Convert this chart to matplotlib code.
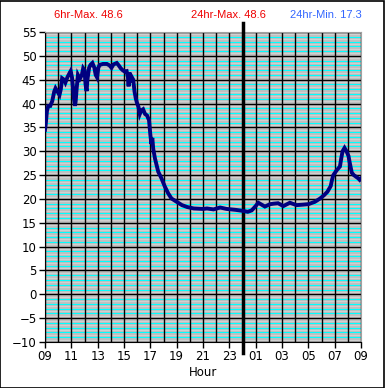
import matplotlib
matplotlib.use('Agg')
import matplotlib.pyplot as plt
import numpy as np

plt.rcParams['font.family'] = ['Liberation Sans', 'DejaVu Sans']

# hours since 09:00, temperature
hours = [0.0, 0.05, 0.15, 0.25, 0.4, 0.55, 0.7, 0.8, 0.95, 1.1, 1.2, 1.3, 1.45, 1.55,
         1.7, 1.85, 1.95, 2.05, 2.12, 2.2, 2.28, 2.33, 2.4, 2.5, 2.65, 2.8, 2.9, 3.0,
         3.08, 3.16, 3.22, 3.35, 3.45, 3.6, 3.75, 3.85, 3.95, 4.05, 4.15, 4.4, 4.7,
         4.9, 5.05, 5.2, 5.45, 5.6, 5.75, 5.9, 6.05, 6.2, 6.3, 6.35, 6.4, 6.5, 6.6,
         6.7, 6.8, 6.9, 7.0, 7.1, 7.2, 7.3, 7.45, 7.6, 7.75, 7.9, 8.0, 8.08, 8.15,
         8.22, 8.35, 8.6, 8.85, 9.1, 9.35, 9.6, 10.0, 10.4, 10.8, 11.3, 12.0, 12.3,
         12.8, 13.3, 13.8, 14.5, 15.0, 15.4, 15.7, 16.0, 16.2, 16.45, 16.7, 17.1,
         17.35, 17.7, 18.1, 18.6, 19.1, 19.6, 20.0, 20.5, 20.9, 21.2, 21.45, 21.7,
         21.8, 21.9, 22.15, 22.4, 22.5, 22.6, 22.75, 22.9, 23.05, 23.15, 23.3, 23.45,
         23.6, 23.8, 23.9, 24.0]
temps = [34.5, 35.5, 38.5, 39.5, 39.5, 40.5, 42.5, 43.2, 42.5, 41.8, 43.0, 45.3, 45.0, 44.4,
         45.5, 46.3, 46.8, 45.5, 43.5, 41.0, 39.5, 40.5, 43.0, 46.0, 45.2, 46.0, 47.4, 47.0,
         44.0, 42.6, 45.0, 47.5, 48.1, 48.5, 47.5, 46.0, 45.5, 47.5, 48.1, 48.3, 48.3,
         48.0, 47.5, 48.2, 48.5, 48.0, 47.4, 47.0, 46.7, 46.8, 45.5, 43.6, 46.5, 44.5, 45.5,
         45.0, 42.5, 41.0, 40.0, 39.3, 37.8, 38.5, 38.8, 37.8, 37.5, 36.5, 33.5, 31.5, 32.8,
         30.5, 28.5, 25.7, 24.3, 22.6, 21.2, 20.1, 19.4, 18.7, 18.3, 18.0, 17.9, 18.0,
         17.8, 18.2, 17.9, 17.7, 17.5, 17.3, 17.6, 18.5, 19.2, 18.8, 18.4, 18.9,
         19.0, 19.1, 18.5, 19.2, 18.7, 18.8, 18.9, 19.4, 20.1, 20.8, 21.5, 22.7,
         24.0, 25.0, 26.0, 26.8, 28.5, 30.0, 30.7, 30.0, 29.0, 27.5, 25.5, 25.0,
         24.7, 24.3, 24.0, 24.3]

xtick_pos = list(range(0, 25, 2))
xtick_labels = ['09', '11', '13', '15', '17', '19', '21', '23', '01', '03', '05', '07', '09']
midnight = 15

fig = plt.figure(figsize=(3.85, 3.88), dpi=100)
ax = fig.add_axes([45/385, 46/388, 316/385, 310/388])
ax.set_facecolor('#c0c0c0')

# minor horizontal lines
for v in np.arange(-10, 55.01, 0.5):
    if v % 5 == 0:
        continue
    if v % 1 == 0:
        ax.axhline(v, color='#00ffff', lw=0.8, zorder=1)
    else:
        ax.axhline(v, color='#d8d8d8', lw=0.5, zorder=1)
for v in range(-10, 56, 5):
    ax.axhline(v, color='black', lw=1.0, zorder=2)
for h in range(0, 25):
    ax.axvline(h, color='black', lw=1.0, zorder=2)

ax.axvline(midnight, ymin=-0.035, ymax=1.028, color='black', lw=2.5, zorder=3, clip_on=False)

ax.plot(hours, temps, color='#000080', lw=2.8, zorder=4, solid_joinstyle='miter')

ax.set_xlim(0, 24)
ax.set_ylim(-10, 55)
ax.set_xticks(xtick_pos)
ax.set_xticklabels(xtick_labels)
ax.set_yticks(range(-10, 56, 5))
ax.tick_params(axis='both', direction='out', length=4, width=1, labelsize=8.5, pad=2)
for lab in ax.get_xticklabels() + ax.get_yticklabels():
    lab.set_family('DejaVu Sans')
ax.set_xlabel('Hour', fontsize=8.5, labelpad=2, family='DejaVu Sans')

for s in ['top', 'right']:
    ax.spines[s].set_color('#a0a0a0')
for s in ['left', 'bottom']:
    ax.spines[s].set_color('black')

fig.text(88/385, 1 - 15/388, '6hr-Max. 48.6', color='#ee0000', fontsize=8, ha='center', va='center')
fig.text(228/385, 1 - 15/388, '24hr-Max. 48.6', color='#ee0000', fontsize=8, ha='center', va='center')
fig.text(326/385, 1 - 15/388, '24hr-Min. 17.3', color='#3366ff', fontsize=8, ha='center', va='center')

fig.patches.append(plt.Rectangle((0.001, 0.001), 0.997, 0.997, transform=fig.transFigure,
                                 fill=False, edgecolor='black', lw=1.2))

fig.savefig('out.png', dpi=100)
